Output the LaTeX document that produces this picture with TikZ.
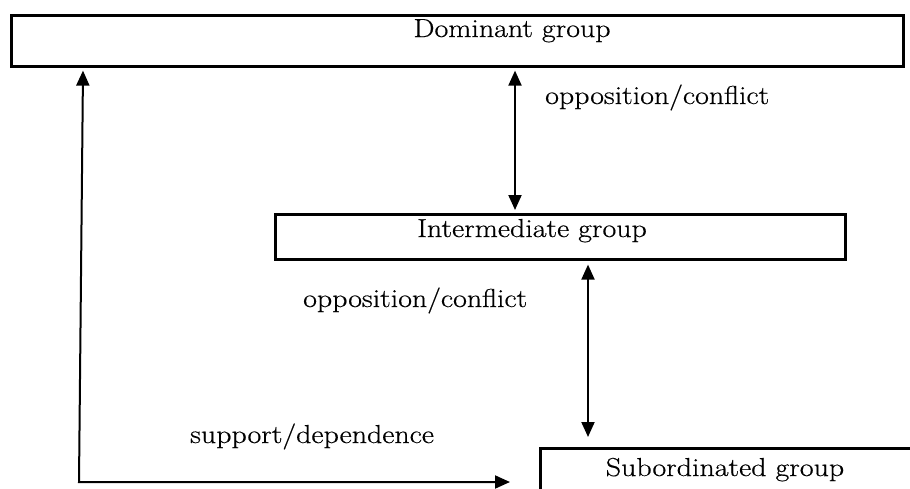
\documentclass[tikz,border=0pt]{standalone}
\usepackage{fontspec}
\setmainfont{Latin Modern Roman}[FakeStretch=1.15,FakeBold=0.5]
\usetikzlibrary{arrows.meta}
\begin{document}
\begin{tikzpicture}[x=1pt,y=-1pt,
  grp/.style={draw,line width=2.6pt,inner sep=0pt,anchor=north west},
  txt/.style={inner sep=0pt,font=\fontsize{26}{29}\selectfont},
  tip/.tip={Triangle[length=15pt,width=13pt]},
  link/.style={line width=2pt,tip-tip}]
\clip (0,0) rectangle (910,488);
\useasboundingbox (0,0) rectangle (910,488);
% group boxes
\node[grp,minimum width=892pt,minimum height=51pt] (dom) at (10,14) {};
\node[grp,minimum width=570pt,minimum height=45pt] (int) at (274,213) {};
\node[grp,minimum width=420pt,minimum height=70pt] (sub) at (539,447) {};
% box titles
\node[txt,anchor=base] (domt) at (512,37) {Dominant group};
\node[txt,anchor=base] (intt) at (532,237) {Intermediate group};
\node[txt,anchor=base] (subt) at (725,476) {Subordinated group};
% relations
\draw[link] ([yshift=-3pt]dom.south -| 515,0) -- ([yshift=3pt]int.north -| 515,0);
\draw[link] ([yshift=-4pt]int.south -| 588,0) -- ([yshift=10pt]sub.north -| 588,0);
\coordinate (corner) at (79,482);
\draw[link]
  ([yshift=-3pt]dom.south -| 83,0) -- (corner) -- ([xshift=-29pt]sub.west |- corner);
% relation labels
\node[txt,anchor=base west] (l1) at (545,104) {opposition/conflict};
\node[txt,anchor=base west] (l2) at (303,307) {opposition/conflict};
\node[txt,anchor=base west] (l3) at (190,443) {support/dependence};
\end{tikzpicture}
\end{document}
